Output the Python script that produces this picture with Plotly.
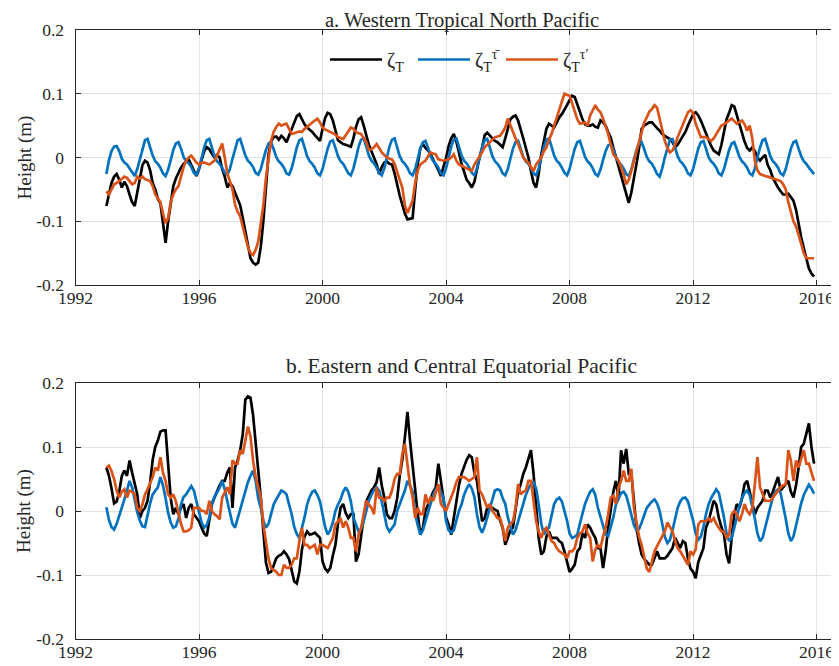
import plotly.graph_objects as go

# ---------------- data (monthly, Jan 1993 .. Dec 2015) ----------------
first_year = 1993
n_months = 276

# Panel a: Western Tropical North Pacific
a_zeta = [
    -0.076, -0.058, -0.040, -0.030, -0.026, -0.035, -0.047, -0.038, -0.045, -0.058, -0.070, -0.076,  # 1993
    -0.055, -0.030, -0.012, -0.005, -0.008, -0.020, -0.040, -0.050, -0.065, -0.072, -0.105, -0.134,  # 1994
    -0.100, -0.070, -0.045, -0.033, -0.024, -0.016, -0.010, -0.006, -0.003, -0.012, -0.022, -0.029,  # 1995
    -0.018, -0.005, 0.010, 0.016, 0.013, 0.006, 0.000, 0.004, 0.000, -0.018, -0.030, -0.047,  # 1996
    -0.040, -0.045, -0.055, -0.062, -0.075, -0.095, -0.118, -0.140, -0.158, -0.165, -0.168, -0.165,  # 1997
    -0.140, -0.100, -0.045, 0.005, 0.025, 0.032, 0.033, 0.028, 0.034, 0.030, 0.024, 0.035,  # 1998
    0.045, 0.055, 0.065, 0.068, 0.060, 0.052, 0.047, 0.044, 0.040, 0.035, 0.030, 0.026,  # 1999
    0.045, 0.062, 0.070, 0.068, 0.058, 0.040, 0.027, 0.024, 0.021, 0.020, 0.018, 0.017,  # 2000
    0.030, 0.048, 0.060, 0.063, 0.050, 0.035, 0.020, 0.010, 0.000, -0.010, -0.026, -0.015,  # 2001
    -0.008, -0.006, -0.010, -0.011, -0.025, -0.045, -0.060, -0.074, -0.088, -0.097, -0.096, -0.095,  # 2002
    -0.050, -0.010, 0.015, 0.021, 0.015, 0.011, 0.005, -0.003, -0.010, -0.020, -0.029, -0.015,  # 2003
    0.000, 0.018, 0.030, 0.037, 0.025, 0.008, -0.010, -0.022, -0.035, -0.040, -0.047, -0.038,  # 2004
    -0.016, 0.000, 0.015, 0.035, 0.039, 0.034, 0.030, 0.026, 0.024, 0.020, 0.016, 0.030,  # 2005
    0.047, 0.060, 0.064, 0.066, 0.058, 0.045, 0.030, 0.015, 0.000, -0.021, -0.040, -0.047,  # 2006
    -0.025, 0.005, 0.025, 0.045, 0.053, 0.050, 0.047, 0.055, 0.063, 0.068, 0.074, 0.082,  # 2007
    0.090, 0.097, 0.095, 0.085, 0.072, 0.060, 0.052, 0.050, 0.050, 0.052, 0.048, 0.047,  # 2008
    0.058, 0.055, 0.050, 0.040, 0.031, 0.015, 0.000, -0.012, -0.026, -0.045, -0.060, -0.071,  # 2009
    -0.055, -0.035, -0.010, 0.015, 0.045, 0.050, 0.053, 0.055, 0.055, 0.050, 0.046, 0.042,  # 2010
    0.037, 0.034, 0.031, 0.029, 0.024, 0.016, 0.020, 0.026, 0.033, 0.040, 0.050, 0.060,  # 2011
    0.068, 0.071, 0.066, 0.058, 0.047, 0.038, 0.028, 0.018, 0.011, 0.008, 0.005, 0.020,  # 2012
    0.040, 0.060, 0.070, 0.082, 0.080, 0.066, 0.055, 0.042, 0.025, 0.015, 0.011, 0.016,  # 2013
    0.010, 0.000, -0.005, 0.000, 0.004, -0.012, -0.020, -0.032, -0.040, -0.047, -0.053, -0.058,  # 2014
    -0.058, -0.057, -0.062, -0.068, -0.082, -0.105, -0.125, -0.142, -0.160, -0.174, -0.182, -0.187,  # 2015
]

a_zeta_mean = [
    -0.026, -0.004, 0.010, 0.017, 0.018, 0.010, -0.002, -0.008, -0.011, -0.017, -0.025, -0.029,  # 1993
    -0.018, -0.002, 0.015, 0.027, 0.029, 0.016, 0.003, -0.006, -0.010, -0.016, -0.025, -0.029,  # 1994
    -0.019, -0.004, 0.012, 0.022, 0.024, 0.014, 0.001, -0.006, -0.009, -0.015, -0.024, -0.027,  # 1995
    -0.017, -0.001, 0.016, 0.027, 0.029, 0.016, 0.002, -0.006, -0.010, -0.016, -0.024, -0.027,  # 1996
    -0.018, -0.002, 0.015, 0.027, 0.029, 0.016, 0.003, -0.005, -0.009, -0.015, -0.024, -0.027,  # 1997
    -0.018, -0.003, 0.012, 0.022, 0.024, 0.013, 0.001, -0.006, -0.010, -0.016, -0.025, -0.027,  # 1998
    -0.017, -0.001, 0.016, 0.027, 0.029, 0.016, 0.002, -0.006, -0.010, -0.016, -0.025, -0.028,  # 1999
    -0.018, -0.002, 0.014, 0.025, 0.027, 0.015, 0.002, -0.006, -0.010, -0.017, -0.025, -0.028,  # 2000
    -0.017, -0.001, 0.017, 0.028, 0.030, 0.017, 0.003, -0.005, -0.009, -0.016, -0.024, -0.028,  # 2001
    -0.017, 0.000, 0.017, 0.028, 0.030, 0.016, 0.002, -0.006, -0.010, -0.016, -0.025, -0.028,  # 2002
    -0.018, -0.002, 0.014, 0.024, 0.026, 0.015, 0.002, -0.006, -0.010, -0.016, -0.025, -0.028,  # 2003
    -0.017, 0.000, 0.017, 0.028, 0.030, 0.017, 0.003, -0.005, -0.009, -0.016, -0.024, -0.028,  # 2004
    -0.017, -0.001, 0.016, 0.027, 0.029, 0.016, 0.002, -0.006, -0.010, -0.016, -0.025, -0.028,  # 2005
    -0.018, -0.002, 0.014, 0.024, 0.026, 0.014, 0.001, -0.006, -0.010, -0.016, -0.025, -0.028,  # 2006
    -0.017, 0.000, 0.017, 0.028, 0.030, 0.017, 0.003, -0.005, -0.009, -0.016, -0.024, -0.028,  # 2007
    -0.018, -0.002, 0.014, 0.024, 0.026, 0.014, 0.001, -0.006, -0.010, -0.017, -0.026, -0.029,  # 2008
    -0.019, -0.004, 0.010, 0.019, 0.021, 0.012, 0.000, -0.007, -0.011, -0.017, -0.026, -0.029,  # 2009
    -0.019, -0.003, 0.012, 0.022, 0.024, 0.013, 0.001, -0.006, -0.010, -0.017, -0.026, -0.030,  # 2010
    -0.017, 0.000, 0.016, 0.028, 0.029, 0.016, 0.002, -0.006, -0.010, -0.016, -0.025, -0.028,  # 2011
    -0.018, -0.002, 0.014, 0.024, 0.026, 0.014, 0.001, -0.006, -0.010, -0.016, -0.025, -0.028,  # 2012
    -0.018, -0.003, 0.012, 0.022, 0.024, 0.013, 0.001, -0.006, -0.010, -0.016, -0.025, -0.028,  # 2013
    -0.017, 0.000, 0.016, 0.027, 0.029, 0.016, 0.002, -0.006, -0.010, -0.016, -0.025, -0.028,  # 2014
    -0.018, -0.002, 0.014, 0.024, 0.026, 0.014, 0.002, -0.006, -0.010, -0.016, -0.022, -0.026,  # 2015
]

a_zeta_prime = [
    -0.053, -0.058, -0.050, -0.042, -0.040, -0.037, -0.033, -0.030, -0.032, -0.037, -0.042, -0.040,  # 1993
    -0.030, -0.033, -0.030, -0.034, -0.036, -0.037, -0.045, -0.058, -0.064, -0.070, -0.088, -0.103,  # 1994
    -0.095, -0.070, -0.058, -0.050, -0.045, -0.030, -0.015, -0.005, 0.000, 0.003, -0.002, -0.008,  # 1995
    -0.011, -0.008, -0.008, -0.010, -0.011, -0.008, -0.005, 0.003, 0.012, 0.022, 0.000, -0.025,  # 1996
    -0.037, -0.050, -0.074, -0.085, -0.092, -0.110, -0.125, -0.140, -0.150, -0.153, -0.145, -0.132,  # 1997
    -0.105, -0.075, -0.032, 0.000, 0.026, 0.040, 0.048, 0.053, 0.050, 0.052, 0.053, 0.045,  # 1998
    0.037, 0.038, 0.039, 0.041, 0.040, 0.045, 0.048, 0.052, 0.055, 0.058, 0.061, 0.055,  # 1999
    0.047, 0.044, 0.042, 0.040, 0.039, 0.036, 0.032, 0.030, 0.029, 0.035, 0.042, 0.047,  # 2000
    0.045, 0.040, 0.038, 0.037, 0.030, 0.024, 0.012, 0.013, 0.016, 0.021, 0.015, 0.008,  # 2001
    0.004, 0.000, -0.002, -0.003, -0.010, -0.021, -0.035, -0.047, -0.075, -0.087, -0.078, -0.068,  # 2002
    -0.040, -0.020, -0.011, -0.008, -0.005, 0.002, 0.008, 0.006, 0.005, -0.003, -0.004, -0.005,  # 2003
    -0.004, -0.003, 0.000, 0.005, -0.005, -0.011, -0.013, -0.015, -0.018, -0.020, -0.021, -0.011,  # 2004
    -0.005, 0.000, 0.008, 0.016, 0.020, 0.024, 0.028, 0.032, 0.033, 0.034, 0.040, 0.047,  # 2005
    0.061, 0.050, 0.042, 0.030, 0.021, 0.010, 0.000, -0.005, -0.008, -0.015, -0.021, -0.011,  # 2006
    -0.005, 0.000, 0.010, 0.016, 0.028, 0.037, 0.050, 0.063, 0.075, 0.087, 0.100, 0.098,  # 2007
    0.097, 0.085, 0.074, 0.060, 0.053, 0.054, 0.055, 0.050, 0.066, 0.074, 0.082, 0.075,  # 2008
    0.071, 0.061, 0.050, 0.037, 0.020, 0.005, 0.000, -0.005, -0.015, -0.026, -0.042, -0.035,  # 2009
    -0.021, -0.005, 0.011, 0.025, 0.042, 0.055, 0.063, 0.072, 0.076, 0.082, 0.078, 0.061,  # 2010
    0.045, 0.026, 0.015, 0.008, 0.011, 0.020, 0.032, 0.042, 0.053, 0.062, 0.071, 0.074,  # 2011
    0.070, 0.053, 0.042, 0.032, 0.032, 0.032, 0.029, 0.026, 0.030, 0.037, 0.044, 0.050,  # 2012
    0.052, 0.055, 0.058, 0.061, 0.057, 0.053, 0.056, 0.058, 0.052, 0.042, 0.050, 0.030,  # 2013
    -0.005, -0.020, -0.026, -0.028, -0.029, -0.030, -0.032, -0.033, -0.034, -0.035, -0.037, -0.042,  # 2014
    -0.050, -0.070, -0.085, -0.100, -0.108, -0.120, -0.135, -0.150, -0.158, -0.158, -0.158, -0.158,  # 2015
]

# Panel b: Eastern and Central Equatorial Pacific
b_zeta = [
    0.068, 0.055, 0.035, 0.012, 0.015, 0.030, 0.055, 0.063, 0.055, 0.079, 0.060, 0.040,  # 1993
    0.026, -0.011, 0.000, 0.005, 0.016, 0.045, 0.080, 0.100, 0.110, 0.124, 0.126, 0.126,  # 1994
    0.070, 0.020, -0.005, 0.005, -0.005, 0.005, 0.011, -0.011, 0.005, 0.011, -0.005, -0.010,  # 1995
    -0.016, -0.026, -0.035, -0.039, -0.015, 0.010, 0.021, 0.032, 0.040, 0.047, 0.047, 0.060,  # 1996
    0.068, 0.005, 0.068, 0.079, 0.095, 0.120, 0.174, 0.179, 0.177, 0.150, 0.110, 0.068,  # 1997
    0.021, -0.032, -0.080, -0.097, -0.095, -0.085, -0.074, -0.070, -0.068, -0.063, -0.068, -0.075,  # 1998
    -0.095, -0.110, -0.113, -0.095, -0.060, -0.040, -0.032, -0.037, -0.036, -0.034, -0.038, -0.042,  # 1999
    -0.079, -0.090, -0.095, -0.089, -0.070, -0.053, -0.020, 0.005, 0.011, -0.003, -0.011, -0.005,  # 2000
    -0.005, -0.079, -0.068, -0.037, -0.010, 0.015, 0.025, 0.032, 0.037, 0.045, 0.068, 0.040,  # 2001
    0.021, -0.005, -0.011, -0.011, 0.000, 0.020, 0.055, 0.080, 0.115, 0.155, 0.110, 0.070,  # 2002
    0.037, -0.005, -0.037, -0.026, 0.000, 0.011, 0.021, 0.030, 0.037, 0.074, 0.047, 0.016,  # 2003
    -0.010, -0.021, -0.037, -0.011, 0.016, 0.040, 0.058, 0.070, 0.080, 0.087, 0.084, 0.060,  # 2004
    0.047, 0.016, -0.016, -0.011, 0.005, 0.005, 0.005, 0.002, 0.000, -0.015, -0.026, -0.053,  # 2005
    -0.042, -0.030, -0.026, 0.000, 0.030, 0.042, 0.058, 0.068, 0.080, 0.095, 0.058, 0.011,  # 2006
    -0.042, -0.068, -0.063, -0.040, -0.032, -0.042, -0.042, -0.042, -0.047, -0.050, -0.063, -0.080,  # 2007
    -0.095, -0.090, -0.084, -0.063, -0.058, -0.035, -0.042, -0.021, -0.026, -0.035, -0.042, -0.058,  # 2008
    -0.058, -0.089, -0.063, -0.026, 0.005, 0.030, 0.047, 0.021, 0.095, 0.074, 0.097, 0.058,  # 2009
    0.058, 0.021, -0.026, -0.050, -0.068, -0.075, -0.079, -0.084, -0.084, -0.074, -0.063, -0.074,  # 2010
    -0.074, -0.074, -0.070, -0.063, -0.058, -0.042, -0.050, -0.058, -0.047, -0.050, -0.074, -0.090,  # 2011
    -0.095, -0.105, -0.080, -0.068, -0.058, -0.026, -0.016, 0.000, 0.016, 0.010, -0.011, -0.025,  # 2012
    -0.037, -0.068, -0.082, -0.042, -0.005, 0.011, 0.005, 0.020, 0.042, 0.047, 0.030, 0.016,  # 2013
    -0.005, 0.005, 0.010, 0.016, 0.032, 0.032, 0.021, 0.030, 0.042, 0.053, 0.032, 0.038,  # 2014
    0.042, 0.047, 0.030, 0.021, 0.040, 0.068, 0.100, 0.105, 0.120, 0.137, 0.100, 0.074,  # 2015
]

b_zeta_mean = [
    0.006, -0.014, -0.025, -0.029, -0.020, -0.008, 0.006, 0.018, 0.032, 0.047, 0.037, 0.016,  # 1993
    -0.002, -0.015, -0.024, -0.025, -0.005, 0.012, 0.026, 0.031, 0.037, 0.053, 0.040, 0.020,  # 1994
    -0.003, -0.018, -0.026, -0.024, -0.012, 0.010, 0.022, 0.026, 0.033, 0.039, 0.032, 0.015,  # 1995
    -0.003, -0.018, -0.026, -0.022, -0.010, 0.012, 0.022, 0.029, 0.036, 0.047, 0.034, 0.015,  # 1996
    -0.003, -0.020, -0.026, -0.012, 0.005, 0.020, 0.032, 0.045, 0.055, 0.063, 0.047, 0.020,  # 1997
    0.005, -0.015, -0.026, -0.020, -0.005, 0.010, 0.018, 0.026, 0.032, 0.030, 0.026, 0.010,  # 1998
    -0.005, -0.025, -0.036, -0.042, -0.028, -0.010, 0.010, 0.022, 0.030, 0.032, 0.025, 0.015,  # 1999
    -0.005, -0.025, -0.037, -0.030, -0.018, 0.000, 0.010, 0.018, 0.030, 0.037, 0.030, 0.015,  # 2000
    -0.010, -0.022, -0.032, -0.028, -0.016, 0.000, 0.016, 0.025, 0.033, 0.037, 0.032, 0.015,  # 2001
    -0.005, -0.025, -0.032, -0.026, -0.021, 0.000, 0.011, 0.022, 0.032, 0.047, 0.040, 0.030,  # 2002
    -0.005, -0.022, -0.037, -0.030, -0.016, 0.000, 0.015, 0.025, 0.034, 0.039, 0.030, 0.020,  # 2003
    -0.016, -0.030, -0.034, -0.030, -0.015, 0.000, 0.010, 0.025, 0.035, 0.042, 0.035, 0.022,  # 2004
    -0.005, -0.025, -0.034, -0.024, -0.010, 0.005, 0.020, 0.032, 0.034, 0.032, 0.020, 0.011,  # 2005
    -0.010, -0.025, -0.037, -0.030, -0.016, 0.000, 0.011, 0.025, 0.035, 0.042, 0.045, 0.035,  # 2006
    0.010, -0.020, -0.037, -0.030, -0.026, -0.005, 0.011, 0.018, 0.021, 0.015, 0.000, -0.015,  # 2007
    -0.035, -0.042, -0.040, -0.037, -0.020, -0.005, 0.011, 0.021, 0.030, 0.034, 0.025, 0.005,  # 2008
    -0.010, -0.025, -0.037, -0.039, -0.025, -0.010, 0.010, 0.020, 0.028, 0.030, 0.024, 0.010,  # 2009
    -0.005, -0.022, -0.030, -0.028, -0.018, -0.005, 0.005, 0.010, 0.015, 0.018, 0.012, 0.000,  # 2010
    -0.020, -0.040, -0.050, -0.045, -0.030, -0.010, 0.005, 0.015, 0.020, 0.021, 0.015, 0.000,  # 2011
    -0.015, -0.035, -0.045, -0.040, -0.025, -0.005, 0.010, 0.020, 0.028, 0.034, 0.028, 0.010,  # 2012
    -0.010, -0.035, -0.047, -0.042, -0.028, -0.010, 0.008, 0.020, 0.028, 0.032, 0.025, 0.008,  # 2013
    -0.012, -0.035, -0.047, -0.042, -0.025, -0.008, 0.010, 0.022, 0.030, 0.034, 0.028, 0.010,  # 2014
    -0.012, -0.035, -0.047, -0.040, -0.022, -0.005, 0.012, 0.025, 0.033, 0.041, 0.035, 0.027,  # 2015
]

b_zeta_prime = [
    0.068, 0.071, 0.062, 0.050, 0.032, 0.021, 0.030, 0.034, 0.021, 0.032, 0.030, 0.026,  # 1993
    0.005, 0.000, 0.010, 0.026, 0.034, 0.045, 0.053, 0.068, 0.063, 0.084, 0.060, 0.047,  # 1994
    0.026, 0.021, 0.026, 0.015, -0.005, -0.020, -0.032, -0.032, -0.030, -0.026, 0.005, 0.005,  # 1995
    0.005, 0.000, 0.000, -0.005, 0.016, 0.000, -0.005, -0.008, -0.013, 0.021, 0.030, 0.037,  # 1996
    0.026, 0.079, 0.074, 0.074, 0.095, 0.089, 0.110, 0.132, 0.116, 0.079, 0.053, 0.035,  # 1997
    0.021, -0.021, -0.050, -0.074, -0.089, -0.092, -0.095, -0.100, -0.100, -0.084, -0.089, -0.089,  # 1998
    -0.084, -0.074, -0.074, -0.047, -0.026, -0.053, -0.053, -0.058, -0.055, -0.053, -0.068, -0.053,  # 1999
    -0.053, -0.055, -0.058, -0.050, -0.042, -0.021, -0.015, -0.011, -0.026, -0.016, -0.026, -0.042,  # 2000
    -0.042, -0.063, -0.037, -0.026, -0.005, 0.016, 0.010, 0.005, -0.005, 0.037, 0.021, 0.021,  # 2001
    0.016, 0.021, 0.021, 0.032, 0.050, 0.058, 0.058, 0.089, 0.105, 0.068, 0.040, 0.021,  # 2002
    -0.011, 0.005, -0.005, -0.005, 0.026, 0.011, 0.021, 0.016, 0.030, 0.042, 0.011, 0.005,  # 2003
    0.000, 0.011, 0.021, 0.032, 0.045, 0.053, 0.053, 0.053, 0.050, 0.047, 0.050, 0.053,  # 2004
    0.084, 0.032, 0.026, 0.015, 0.005, 0.011, 0.000, -0.005, -0.011, -0.011, -0.026, -0.047,  # 2005
    -0.026, -0.020, -0.016, 0.005, 0.042, 0.026, 0.030, 0.032, 0.047, 0.047, 0.011, -0.016,  # 2006
    -0.032, -0.042, -0.030, -0.026, -0.037, -0.047, -0.050, -0.058, -0.063, -0.065, -0.068, -0.074,  # 2007
    -0.063, -0.063, -0.058, -0.042, -0.035, -0.032, -0.021, -0.035, -0.042, -0.079, -0.060, -0.053,  # 2008
    -0.058, -0.040, -0.026, -0.005, 0.021, 0.024, 0.011, 0.037, 0.047, 0.063, 0.047, 0.047,  # 2009
    0.066, 0.005, -0.021, -0.040, -0.053, -0.074, -0.090, -0.095, -0.079, -0.063, -0.055, -0.047,  # 2010
    -0.040, -0.032, -0.018, -0.025, -0.032, -0.047, -0.058, -0.063, -0.070, -0.079, -0.084, -0.063,  # 2011
    -0.068, -0.060, -0.021, -0.016, -0.016, -0.016, -0.011, -0.016, -0.011, -0.020, -0.026, -0.032,  # 2012
    -0.032, -0.042, -0.037, -0.005, 0.000, -0.005, -0.016, -0.005, 0.011, 0.000, -0.005, 0.005,  # 2013
    0.042, 0.084, 0.037, 0.025, 0.016, 0.016, 0.016, 0.021, 0.026, 0.032, 0.037, 0.040,  # 2014
    0.042, 0.095, 0.079, 0.047, 0.079, 0.068, 0.080, 0.095, 0.074, 0.074, 0.060, 0.047,  # 2015
]

time = [first_year + i / 12 for i in range(n_months)]

series_names = ["ζ<sub>T</sub>", "ζ<sub>T</sub><sup>τ̄</sup>", "ζ<sub>T</sub><sup>τ′</sup>"]
series_colors = ["#000000", "#0072BD", "#D95319"]
panel_titles = ["a. Western Tropical North Pacific", "b. Eastern and Central Equatorial Pacific"]
x_tick_vals = [1992, 1996, 2000, 2004, 2008, 2012, 2016]
x_tick_text = ["1992", "1996", "2000", "2004", "2008", "2012", "2016"]
y_tick_vals = [-0.2, -0.1, 0, 0.1, 0.2]
y_tick_text = ["-0.2", "-0.1", "0", "0.1", "0.2"]
y_label = "Height (m)"

# ---------------- figure ----------------
# The page places the figure 8 px in from the top-left corner, so the
# figure is 8 px smaller and positions below are given in page pixels.
OFF = 8
W, H = 839 - OFF, 666 - OFF
FONT = "Liberation Serif"
TXT = "#262626"
GRID = "#e2e2e2"


def px_x(x):
    return (x - OFF) / W


def px_y(y):
    return 1 - (y - OFF) / H


fig = go.Figure()
panels = [(a_zeta, a_zeta_mean, a_zeta_prime), (b_zeta, b_zeta_mean, b_zeta_prime)]
for p, data in enumerate(panels):
    xa = "x" if p == 0 else "x2"
    ya = "y" if p == 0 else "y2"
    for k, vals in enumerate(data):
        fig.add_trace(go.Scatter(
            x=time, y=vals, mode="lines", name=series_names[k],
            line=dict(color=series_colors[k], width=2.7),
            xaxis=xa, yaxis=ya, showlegend=(p == 0),
        ))

left_px = 75.5
px_per_year = 30.88
x_dom = [px_x(left_px), 1.0]
x_end = 1992 + (839 - left_px) / px_per_year

xcommon = dict(
    range=[1992, x_end], tickmode="array",
    tickvals=x_tick_vals, ticktext=x_tick_text,
    showline=True, linecolor=TXT, linewidth=1, mirror="ticks",
    ticks="inside", ticklen=5, tickcolor=TXT, tickwidth=1,
    showgrid=True, gridcolor=GRID, gridwidth=1, zeroline=False,
    tickfont=dict(family=FONT, size=17.5, color=TXT), domain=x_dom,
    ticklabelstandoff=-3,
)
ycommon = dict(
    range=[-0.2, 0.2], tickmode="array", tickvals=y_tick_vals, ticktext=y_tick_text,
    showline=True, linecolor=TXT, linewidth=1, mirror="ticks",
    ticks="inside", ticklen=5, tickcolor=TXT, tickwidth=1,
    showgrid=True, gridcolor=GRID, gridwidth=1, zeroline=False,
    tickfont=dict(family=FONT, size=17.5, color=TXT), ticklabelstandoff=7,
)

fig.update_layout(
    width=W, height=H, autosize=False,
    margin=dict(l=0, r=0, t=0, b=0, autoexpand=False),
    paper_bgcolor="white", plot_bgcolor="white",
    xaxis=dict(**xcommon, anchor="y"),
    yaxis=dict(**ycommon, domain=[px_y(285), px_y(30)], anchor="x"),
    xaxis2=dict(**xcommon, anchor="y2"),
    yaxis2=dict(**ycommon, domain=[px_y(639), px_y(383)], anchor="x2"),
    legend=dict(
        orientation="h", x=px_x(325), y=px_y(40), xanchor="left", yanchor="top",
        bgcolor="rgba(0,0,0,0)", borderwidth=0, itemwidth=52,
        entrywidth=21, entrywidthmode="pixels",
        font=dict(family=FONT, size=20, color=TXT), tracegroupgap=0,
    ),
    showlegend=True,
)

annotations = [
    # panel a title: anchored at the very top of the figure so it is not clipped
    dict(text=panel_titles[0], x=px_x(461.5), y=1.0, xref="paper", yref="paper",
         xanchor="center", yanchor="top", showarrow=False, borderpad=0,
         font=dict(family=FONT, size=20.5, color=TXT)),
    dict(text=panel_titles[1], x=px_x(461.5), y=px_y(366), xref="paper", yref="paper",
         xanchor="center", yanchor="middle", showarrow=False,
         font=dict(family=FONT, size=21.5, color=TXT)),
]
for ly in [157.5, 511]:
    annotations.append(dict(
        text=y_label, x=px_x(24), y=px_y(ly), xref="paper", yref="paper",
        xanchor="center", yanchor="middle", showarrow=False, textangle=-90,
        font=dict(family=FONT, size=19, color=TXT),
    ))
fig.update_layout(annotations=annotations)

fig.write_html("out.html")
